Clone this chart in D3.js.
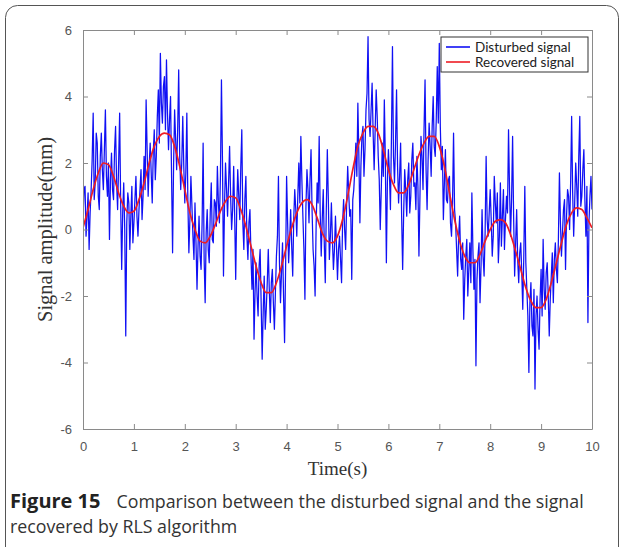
<!DOCTYPE html>
<html>
<head>
<meta charset="utf-8">
<script src="https://cdn.jsdelivr.net/npm/d3@7"></script>
<style>
  body { margin: 0; background: #fff; }
  #chart { width: 624px; height: 547px; }
  .tick text { font-family: "Liberation Sans", Arial, sans-serif; font-size: 13px; fill: #555; }
  .axis path, .axis line { stroke: #8a8a8a; }
</style>
</head>
<body>
<div id="chart"></div>
<script>
// time axis ticks, amplitude ticks
let xTickVals = [0, 1, 2, 3, 4, 5, 6, 7, 8, 9, 10];
let yTickVals = [-6, -4, -2, 0, 2, 4, 6];

// disturbed signal, one sample every 0.02 s
let disturbedStep = 0.02;
let disturbed = [
  0.3, 1.2, 1.3, -0.2, 0.4, 1.1, -0.6, 0.5, 1.2, 2.1, 3.5, 0.9, 1.4, 2.9, 2.6, 1.0, 0.6, 2.2, 2.9, 1.8,
  1.2, 2.4, 3.6, 1.6, 1.0, 2.0, -0.3, 1.5, 2.3, 1.2, 0.9, 2.4, 3.1, 1.4, 0.6, 2.0, 3.5, 0.8, -1.2, 0.5,
  1.4, 0.0, -3.2, 0.2, 1.1, 0.8, -0.6, 0.4, 1.3, -0.4,
  0.2, 0.9, 1.6, 0.4, -0.2, 0.6, 1.2, 1.8, 0.3, 1.0, 2.2, 1.2, 3.9, 2.4, 1.0, 1.9, 2.6, 1.7, 0.8, 2.3,
  3.0, 1.5, 2.2, 3.4, 4.2, 2.6, 5.3, 3.8, 3.2, 4.3, 4.6, 3.0, 5.1, 3.5, 2.4, 3.3, 4.0, 1.6, -0.7, 2.0,
  3.6, 2.7, 1.8, 3.0, 4.8, 2.2, 1.2, 2.0, 3.4, 1.9,
  0.8, 1.7, 3.5, 0.9, -0.7, 0.3, 1.6, 0.7, -0.2, -0.9, 0.8, -0.4, -1.8, -0.5, 0.4, -0.8, -1.2, 0.2, 2.6, -0.9,
  -2.2, -0.1, 0.6, -0.6, -1.0, 0.5, 1.4, -0.3, -0.4, 0.9, 0.8, 0.1, 1.9, 0.8, 0.2, 1.6, 4.5, 2.1, -1.4, 0.7,
  2.0, 1.2, 0.4, 1.4, 2.5, 1.0, 0.0, 0.6, 1.9, 0.4,
  -1.5, 0.6, 1.8, 1.0, 0.3, 1.9, 3.0, 0.2, -0.6, 0.9, 1.6, -0.2, -0.9, 0.2, 0.6, -0.8, -1.8, -0.6, -3.3, -1.9,
  -1.0, -2.0, -2.6, -1.1, -0.6, -2.2, -3.9, -2.5, -1.4, -3.0, -2.4, -1.6, -0.6, -1.8, -2.8, -1.6, -1.2, -2.2, -3.0, -1.9,
  -0.8, -0.2, 1.6, -1.0, -2.2, -1.3, -0.4, -2.0, -3.4, -1.2,
  1.6, 0.2, -1.0, -0.3, 0.6, -0.5, -1.4, 0.3, 1.2, 0.6, -0.2, 1.0, 2.0, 0.8, 2.8, 1.5, 0.4, -0.6, -2.1, 0.7,
  1.8, 1.2, 0.2, 1.5, 2.4, 0.6, -0.6, -1.1, -2.0, 0.1, 1.4, 0.8, 2.8, 0.5, -0.8, 0.3, 1.2, -0.4, -1.6, 0.6,
  2.4, 0.9, -0.9, -0.2, 0.8, -0.3, -1.2, -0.6, 0.4, -0.5,
  -1.5, -0.6, -0.2, -0.9, -1.6, 0.2, 0.9, 0.0, -0.6, 0.8, 1.9, 1.1, 0.4, 0.6, -1.5, 0.9, 1.2, 1.8, 2.6, 1.6,
  3.8, 2.2, 0.2, 1.9, 2.8, 3.1, 1.6, 2.4, 3.6, 4.1, 5.8, 3.3, 2.8, 3.6, 4.4, 2.9, 1.8, 3.0, 4.2, 3.4,
  2.2, 1.5, 0.0, 1.2, 2.6, 1.6, 3.9, 2.1, -1.0, 1.4,
  2.4, 1.7, 0.6, 2.8, 5.5, 2.2, 1.4, 2.6, 4.2, 1.9, 0.8, 1.6, 2.6, 0.4, -1.2, 0.5, 1.8, 1.2, 0.4, 1.5,
  2.0, 0.5, 1.0, 2.1, 2.6, 1.3, 1.4, 0.6, 2.2, 1.3, -0.8, 1.0, 2.8, 2.2, 1.2, 3.0, 4.5, 1.8, 0.6, 2.1,
  3.2, 2.5, 1.6, 3.1, 4.0, 2.5, 2.2, 3.3, 4.9, 3.2,
  5.6, 3.1, 1.8, 2.5, 0.3, 1.4, 2.4, 0.9, 0.8, 1.5, 1.6, 0.2, -0.2, 0.8, 2.9, 0.6, 0.2, -0.6, -1.4, -0.2,
  0.4, -0.9, -1.2, -0.4, -2.7, -1.5, -0.8, -0.3, -2.0, -1.2, -0.4, -1.6, 1.1, -0.6, -1.8, -0.9, -4.1, -1.5, -0.8, -0.4,
  -2.2, -1.1, 0.6, -0.8, -1.4, -0.1, 2.2, 0.3, -0.2, 0.5,
  1.2, 0.3, -0.8, -0.2, 1.6, 0.8, 0.2, 1.1, -1.0, -0.2, 1.4, -0.5, 0.4, 1.2, -0.6, 0.3, 1.0, 0.5, 3.0, 1.2,
  -0.2, 0.9, 2.8, 0.4, -1.4, -0.4, 0.6, -0.9, -1.6, -0.7, -0.4, -1.3, -2.4, -0.8, 1.3, -1.0, -1.8, -2.6, -4.3, -2.2,
  -1.6, -2.9, -3.2, -1.8, -4.8, -2.6, -2.0, -3.0, -3.6, -2.1,
  -1.2, -2.6, -0.3, -1.8, -2.4, -1.3, -1.0, -2.0, -3.2, -2.1, -1.4, -0.7, -2.2, -0.9, -0.4, -1.2, -1.6, -0.3, 1.7, 0.2,
  -0.8, -0.1, 0.6, 0.9, -1.2, 0.4, 1.2, 1.0, 0.0, 1.4, 3.4, 1.1, -0.2, 0.8, 2.0, 1.3, 0.4, 2.2, 3.4, 0.7,
  1.0, 1.8, 2.4, 0.9, -0.2, 1.3, -2.8, 0.2, 1.0, 1.6, 0.6
];

// recovered (RLS) signal, one sample every 0.1 s
let recoveredStep = 0.1;
let recovered = [
  0.05, 0.6, 1.2, 1.7, 2.0, 1.95, 1.6, 1.1, 0.7, 0.5,
  0.55, 0.9, 1.4, 2.0, 2.5, 2.8, 2.9, 2.85, 2.5, 1.9,
  1.2, 0.5, 0.0, -0.35, -0.4, -0.2, 0.15, 0.55, 0.85, 1.0,
  0.95, 0.6, 0.1, -0.5, -1.1, -1.6, -1.9, -1.9, -1.6, -1.1,
  -0.5, 0.05, 0.5, 0.8, 0.9, 0.75, 0.35, -0.1, -0.35, -0.4,
  -0.2, 0.3, 1.0, 1.8, 2.5, 2.9, 3.1, 3.1, 2.9, 2.4,
  1.8, 1.35, 1.1, 1.1, 1.35, 1.8, 2.25, 2.6, 2.8, 2.8,
  2.5, 1.9, 1.1, 0.3, -0.35, -0.8, -1.0, -1.0, -0.75, -0.35,
  0.0, 0.25, 0.3, 0.2, -0.15, -0.65, -1.2, -1.75, -2.15, -2.35,
  -2.35, -2.1, -1.6, -1.0, -0.4, 0.15, 0.5, 0.65, 0.6, 0.35, 0.05
];

let seriesNames = ["Disturbed signal", "Recovered signal"];
let seriesColors = ["#1010f4", "#ee1c24"];

let captionBold = "Figure 15";
let captionLine1 = "Comparison between the disturbed signal and the signal";
let captionLine2 = "recovered by RLS algorithm";

let W = 624, H = 547;
let margin = {top: 30, left: 83, bottom: 118, right: 32};
let width = W - margin.left - margin.right;
let height = H - margin.top - margin.bottom;

let svg = d3.select("#chart").append("svg")
    .attr("width", W)
    .attr("height", H);

// frame around the figure
svg.append("rect")
    .attr("x", 5.5).attr("y", 5.5)
    .attr("width", 613).attr("height", 600)
    .attr("rx", 12)
    .attr("fill", "none")
    .attr("stroke", "#555")
    .attr("stroke-width", 1);

let g = svg.append("g")
    .attr("transform", `translate(${margin.left}, ${margin.top})`);

let xScale = d3.scaleLinear().domain([0, 10]).range([0, width]);
let yScale = d3.scaleLinear().domain([-6, 6]).range([height, 0]);

g.append("clipPath")
    .attr("id", "plot-clip")
  .append("rect")
    .attr("width", width)
    .attr("height", height);

let line = d3.line()
    .x(d => xScale(d.t))
    .y(d => yScale(d.v));

let disturbedData = disturbed.map((v, i) => ({t: i * disturbedStep, v: v}));
let recoveredData = recovered.map((v, i) => ({t: i * recoveredStep, v: v}));

g.append("path")
    .datum(disturbedData)
    .attr("fill", "none")
    .attr("stroke", seriesColors[0])
    .attr("stroke-width", 1.25)
    .attr("stroke-linejoin", "round")
    .attr("clip-path", "url(#plot-clip)")
    .attr("d", line);

g.append("path")
    .datum(recoveredData)
    .attr("fill", "none")
    .attr("stroke", seriesColors[1])
    .attr("stroke-width", 1.7)
    .attr("clip-path", "url(#plot-clip)")
    .attr("d", line.curve(d3.curveMonotoneX));

let fmt = d => String(d);

// axes, ticks pointing inward, mirrored on top and right
g.append("g")
    .attr("class", "x axis")
    .attr("transform", `translate(0, ${height})`)
    .call(d3.axisBottom(xScale).tickValues(xTickVals).tickFormat(fmt).tickSize(-5).tickPadding(13).tickSizeOuter(0));

g.append("g")
    .attr("class", "axis")
    .call(d3.axisTop(xScale).tickValues(xTickVals).tickSize(-5).tickFormat("").tickSizeOuter(0));

g.append("g")
    .attr("class", "y axis")
    .call(d3.axisLeft(yScale).tickValues(yTickVals).tickFormat(fmt).tickSize(-5).tickPadding(11).tickSizeOuter(0));

g.append("g")
    .attr("class", "axis")
    .attr("transform", `translate(${width}, 0)`)
    .call(d3.axisRight(yScale).tickValues(yTickVals).tickSize(-5).tickFormat("").tickSizeOuter(0));

// axis titles
g.append("text")
    .attr("x", width / 2)
    .attr("y", height + 46)
    .attr("text-anchor", "middle")
    .attr("font-family", "'Liberation Serif', 'Times New Roman', serif")
    .attr("font-size", 19)
    .attr("fill", "#333")
    .text("Time(s)");

g.append("text")
    .attr("transform", `translate(-31, ${height / 2}) rotate(-90)`)
    .attr("text-anchor", "middle")
    .attr("font-family", "'Liberation Serif', 'Times New Roman', serif")
    .attr("font-size", 20.5)
    .attr("fill", "#333")
    .text("Signal amplitude(mm)");

// legend
let legend = g.append("g")
    .attr("transform", `translate(${width - 151}, 7)`);

legend.append("rect")
    .attr("width", 147)
    .attr("height", 35)
    .attr("fill", "#fff")
    .attr("stroke", "#333")
    .attr("stroke-width", 1);

seriesNames.forEach((name, i) => {
  let row = legend.append("g").attr("transform", `translate(0, ${10 + i * 15})`);
  row.append("line")
      .attr("x1", 5).attr("x2", 29)
      .attr("stroke", seriesColors[i])
      .attr("stroke-width", 1.6);
  row.append("text")
      .attr("x", 34)
      .attr("dy", "0.35em")
      .attr("font-family", "Lato, sans-serif")
      .attr("font-size", 13.5)
      .attr("fill", "#222")
      .text(name);
});

// caption
let cap = svg.append("text")
    .attr("x", 10)
    .attr("y", 508)
    .attr("font-family", "'Open Sans', sans-serif")
    .attr("font-size", 17.8)
    .attr("fill", "#333");
cap.append("tspan").attr("font-weight", "bold").attr("font-size", 20).attr("fill", "#222").text(captionBold);
cap.append("tspan").attr("dx", 16).text(captionLine1);

svg.append("text")
    .attr("x", 10)
    .attr("y", 533)
    .attr("font-family", "'Open Sans', sans-serif")
    .attr("font-size", 17.8)
    .attr("fill", "#333")
    .text(captionLine2);
</script>
</body>
</html>
